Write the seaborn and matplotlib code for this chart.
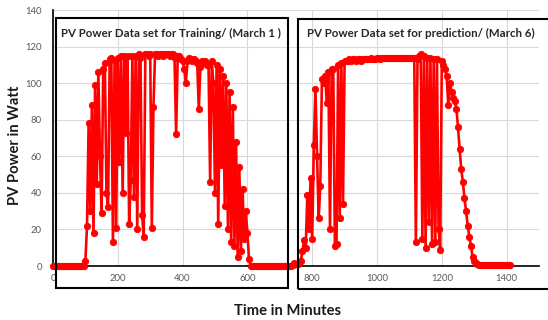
import numpy as np
import pandas as pd
import matplotlib
matplotlib.use("Agg")
import matplotlib.pyplot as plt
import seaborn as sns
from matplotlib.patches import Rectangle

# ---------------- data ----------------
step_minutes = 5
train_start = 0
pred_start = 720

train_power = (
    [0] * 20
    + [3, 22, 78, 30, 88, 18, 99, 45, 106, 60, 29, 108, 111, 40, 32, 113, 114, 13,
       112, 21, 114, 57, 115, 40, 115, 73, 115, 23, 47, 115, 38, 115, 20, 116, 114,
       28, 16, 116, 116, 115, 116, 21, 87]
    + [116, 116, 115, 116, 116, 115, 116, 116, 116, 115, 116, 116, 114, 72, 115, 115,
       113, 112, 108, 100, 112, 114, 113, 112, 113, 112, 111, 86, 109, 112, 111, 112, 110]
    + [110, 46, 112, 100, 40, 110, 23, 108, 55, 104, 33, 100, 20, 95, 13, 87, 11, 68,
       5, 54, 8, 42, 15, 30, 18, 4, 0]
    + [0] * 21
)

pred_power = (
    [0, 0, 0, 0, 0.5, 1.5, 1, 1, 1.5, 3]
    + [8, 14, 10, 39, 20, 48, 15, 66, 97, 60, 26, 44, 102, 100, 104, 89, 106, 20,
       108, 108, 11, 12, 110, 26, 111, 34, 112]
    + [112, 112, 113, 112, 113, 113, 112, 113, 113, 112, 113, 113, 113, 113, 113, 114,
       113, 113, 113, 114, 114, 113, 114, 114, 114, 114, 114, 114, 114, 114, 114, 114,
       114, 114, 114, 114, 114, 114, 114, 114, 114, 114, 114]
    + [13, 113, 115, 116, 15, 115, 10, 114, 24, 114, 12, 113, 13, 113, 20, 9, 112]
    + [110, 108, 104, 88, 100, 95, 92, 90, 86, 76, 64, 53, 46, 37, 30, 22, 16, 11, 5, 3]
    + [1.5, 1] + [0.5] * 20
)

x_ticks = [0, 200, 400, 600, 800, 1000, 1200, 1400]
y_ticks = [0, 20, 40, 60, 80, 100, 120, 140]
x_label = "Time in Minutes"
y_label = "PV Power in Watt"
title_train = "PV Power Data set for Training/ (March 1 )"
title_pred = "PV Power Data set for prediction/ (March 6)"

train_time = train_start + np.arange(len(train_power)) * step_minutes
pred_time = pred_start + np.arange(len(pred_power)) * step_minutes
df = pd.concat([
    pd.DataFrame({"time": train_time, "power": train_power, "set": "train"}),
    pd.DataFrame({"time": pred_time, "power": pred_power, "set": "pred"}),
], ignore_index=True)

# ---------------- figure ----------------
sns.set_style("white")
plt.rcParams["font.family"] = ["Lato", "DejaVu Sans"]

W, H = 548, 320
fig = plt.figure(figsize=(W / 100, H / 100), dpi=100)
ax = fig.add_axes([53 / W, 1 - 266 / H, (539 - 53) / W, (266 - 10) / H])

sns.lineplot(data=df, x="time", y="power", units="set", estimator=None,
             color="#ff0000", linewidth=1.9, marker="o", markersize=4.6,
             markeredgecolor="#ff0000", markeredgewidth=0.6, ax=ax, legend=False,
             zorder=3, clip_on=False)

ax.set_xlim(0, 1500)
ax.set_ylim(0, 140)
ax.set_xticks(x_ticks)
ax.set_yticks(y_ticks)
ax.grid(True, color="#d9d9d9", linewidth=0.8, zorder=0)
ax.set_axisbelow(True)
for s in ["top", "right"]:
    ax.spines[s].set_visible(False)
ax.spines["left"].set_color("black")
ax.spines["bottom"].set_color("black")
ax.spines["left"].set_linewidth(1.2)
ax.spines["bottom"].set_linewidth(1.2)
ax.tick_params(axis="both", length=0, labelsize=6.8, labelcolor="#595959")
ax.tick_params(axis="x", pad=6)
ax.tick_params(axis="y", pad=8)
ax.set_xlabel("")
ax.set_ylabel("")

fig.text(288 / W, 1 - 311 / H, x_label, ha="center", va="center",
         fontsize=10.6, fontweight="bold", color="#1a1a1a")
fig.text(15 / W, 1 - 145 / H, y_label, ha="center", va="center", rotation=90,
         fontsize=10.6, fontweight="bold", color="#1a1a1a")

# framing boxes drawn over the chart
box_kw = dict(fill=False, edgecolor="black", linewidth=1.5,
              transform=fig.transFigure, zorder=10)
fig.add_artist(Rectangle((56 / W, 1 - 288 / H), (288 - 56) / W, (288 - 18) / H, **box_kw))
fig.add_artist(Rectangle((298 / W, 1 - 289 / H), (560 - 298) / W, (289 - 19) / H, **box_kw))

fig.text(61 / W, 1 - 33 / H, title_train, ha="left", va="center",
         fontsize=8.3, fontweight="bold", color="#262626")
fig.text(307 / W, 1 - 33 / H, title_pred, ha="left", va="center",
         fontsize=8.3, fontweight="bold", color="#262626")

fig.savefig("out.png", dpi=100)
